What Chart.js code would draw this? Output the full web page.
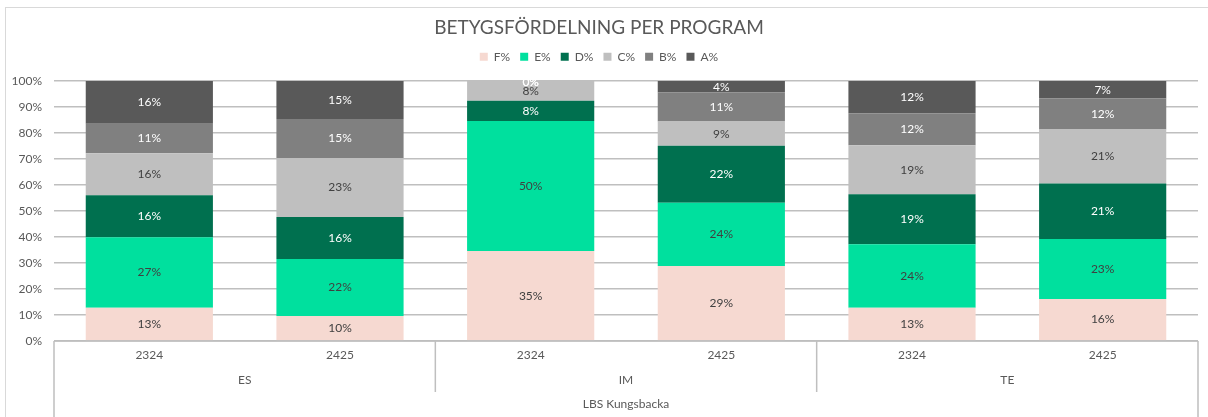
<!DOCTYPE html>
<html>
<head>
<meta charset="utf-8">
<script src="https://cdn.jsdelivr.net/npm/chart.js@4"></script>
<style>
  html, body { margin: 0; padding: 0; background: #fff; }
  #wrap { width: 1208px; height: 417px; }
</style>
</head>
<body>
<div id="wrap"><canvas id="chart" width="1208" height="417"></canvas></div>
<script>
const school = 'LBS Kungsbacka';
const programs = ['ES', 'IM', 'TE'];
const years = ['2324', '2425'];

// one value per bar: ES 2324, ES 2425, IM 2324, IM 2425, TE 2324, TE 2425
const fVals = [12.8, 9.6, 34.6, 28.8, 12.8, 16.2];
const eVals = [27.1, 21.9, 50.0, 24.4, 24.4, 23.0];
const dVals = [16.2, 16.2, 7.8, 21.9, 19.2, 21.4];
const cVals = [16.1, 22.7, 7.6, 9.3, 18.9, 20.7];
const bVals = [11.4, 15.0, 0, 11.2, 12.3, 12.0];
const aVals = [16.4, 14.6, 0, 4.4, 12.4, 6.7];

const seriesNames = ['F%', 'E%', 'D%', 'C%', 'B%', 'A%'];
const seriesColors = ['#f6d9d1', '#00e09e', '#00704f', '#bfbfbf', '#808080', '#595959'];
const labelColors = ['#404040', '#404040', '#ffffff', '#404040', '#ffffff', '#ffffff'];

const FONT = 'Lato, "DejaVu Sans", sans-serif';
const TEXT = '#595959';
const LINE = '#bfbfbf';

const labels = [];
programs.forEach(p => years.forEach(y => labels.push(y)));

const allVals = [fVals, eVals, dVals, cVals, bVals, aVals];
const datasets = allVals.map((vals, i) => ({
    label: seriesNames[i],
    data: vals,
    backgroundColor: seriesColors[i],
    borderWidth: 0,
    categoryPercentage: 1.0,
    barPercentage: 0.667
}));

const segmentLabels = {
    id: 'segmentLabels',
    afterDatasetsDraw(chart) {
        const ctx = chart.ctx;
        ctx.save();
        ctx.font = '12px ' + FONT;
        ctx.textAlign = 'center';
        ctx.textBaseline = 'middle';
        chart.data.datasets.forEach((ds, i) => {
            const meta = chart.getDatasetMeta(i);
            meta.data.forEach((bar, j) => {
                const v = ds.data[j];
                ctx.fillStyle = v === 0 ? '#ffffff' : labelColors[i];
                const y = (bar.y + bar.base) / 2;
                ctx.fillText(Math.round(v) + '%', bar.x, v === 0 ? y + 1 : y);
            });
        });
        ctx.restore();
    }
};

const groupAxis = {
    id: 'groupAxis',
    beforeDraw(chart) {
        const ctx = chart.ctx;
        ctx.save();
        ctx.strokeStyle = '#d9d9d9';
        ctx.lineWidth = 1;
        ctx.strokeRect(5.5, 7.5, 1210, 420);
        ctx.restore();
    },
    afterDraw(chart) {
        const ctx = chart.ctx;
        const area = chart.chartArea;
        const x = chart.scales.x;
        const bottom = chart.height;
        const step = (area.right - area.left) / labels.length;
        ctx.save();
        ctx.strokeStyle = LINE;
        ctx.lineWidth = 1.5;
        ctx.beginPath();
        ctx.moveTo(area.left, area.bottom);
        ctx.lineTo(area.right, area.bottom);
        ctx.moveTo(area.left, area.bottom);
        ctx.lineTo(area.left, bottom);
        ctx.moveTo(area.right, area.bottom);
        ctx.lineTo(area.right, bottom);
        for (let g = 1; g < programs.length; g++) {
            const gx = area.left + g * years.length * step;
            ctx.moveTo(gx, area.bottom);
            ctx.lineTo(gx, area.bottom + 51);
        }
        ctx.stroke();

        ctx.fillStyle = TEXT;
        ctx.font = '12px ' + FONT;
        ctx.textAlign = 'center';
        ctx.textBaseline = 'middle';
        labels.forEach((l, i) => {
            ctx.fillText(l, x.getPixelForValue(i), area.bottom + 14);
        });
        programs.forEach((p, g) => {
            const cx = area.left + (g + 0.5) * years.length * step;
            ctx.fillText(p, cx, area.bottom + 39);
        });
        ctx.fillText(school, (area.left + area.right) / 2, area.bottom + 63);
        ctx.restore();
    }
};

new Chart(document.getElementById('chart'), {
    type: 'bar',
    data: { labels: labels, datasets: datasets },
    plugins: [segmentLabels, groupAxis],
    options: {
        responsive: false,
        animation: false,
        layout: { padding: { left: 0, right: 10, top: 0, bottom: 0 } },
        scales: {
            x: {
                stacked: true,
                grid: { display: false },
                border: { display: false },
                ticks: { display: false },
                afterFit: s => { s.height = 76; }
            },
            y: {
                stacked: true,
                min: 0,
                max: 100,
                border: { display: false },
                grid: { color: LINE, lineWidth: 1.5, drawTicks: false },
                ticks: {
                    stepSize: 10,
                    padding: 12,
                    color: TEXT,
                    font: { family: FONT, size: 12 },
                    callback: v => v + '%'
                },
                afterFit: s => { s.width = 54; }
            }
        },
        plugins: {
            title: {
                display: true,
                text: 'BETYGSFÖRDELNING PER PROGRAM',
                color: TEXT,
                font: { family: FONT, size: 19, weight: 'normal' },
                padding: { top: 16, bottom: 2 }
            },
            legend: {
                display: true,
                position: 'top',
                labels: {
                    color: TEXT,
                    font: { family: FONT, size: 12 },
                    boxWidth: 8,
                    boxHeight: 8,
                    padding: 10
                }
            },
            // empty spacer between the legend and the plot
            subtitle: {
                display: true,
                text: ' ',
                weight: 500,
                font: { size: 1 },
                padding: { top: 7, bottom: 0 }
            },
            tooltip: { enabled: false }
        }
    }
});
</script>
</body>
</html>
